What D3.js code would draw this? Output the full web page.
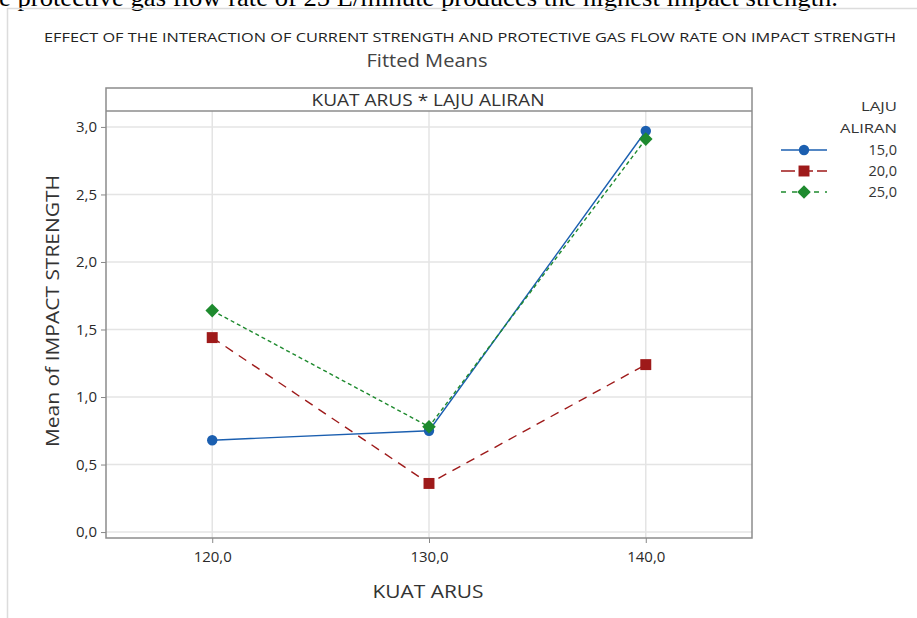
<!DOCTYPE html>
<html><head><meta charset="utf-8">
<script src="https://cdn.jsdelivr.net/npm/d3@7"></script>
<style>body{margin:0;background:#fff}svg{display:block}</style>
</head><body>
<script>
const categories = [120, 130, 140];
const seriesNames = ["15,0", "20,0", "25,0"];
const s15 = [0.68, 0.75, 2.97];
const s20 = [1.44, 0.36, 1.24];
const s25 = [1.64, 0.78, 2.91];
const yTicks = [0, 0.5, 1, 1.5, 2, 2.5, 3];
const xTicks = [120, 130, 140];

const W = 917, H = 618;
const svg = d3.select("body").append("svg").attr("width", W).attr("height", H);
const font = "'Open Sans', 'Noto Sans', sans-serif";

// clipped caption text from surrounding document
svg.append("text").attr("x", -1).attr("y", 6)
  .attr("font-family", "'Liberation Serif', serif").attr("font-size", 25).attr("fill", "#000")
  .attr("textLength", 839).attr("lengthAdjust", "spacingAndGlyphs")
  .text("e protective gas flow rate of 25 L/minute produces the highest impact strength.");

// outer frame
svg.append("path").attr("d", "M7.5,618 V8.5 H917").attr("fill", "none").attr("stroke", "#dcdcdc").attr("stroke-width", 1.5);

const L = 106, R = 752, T = 111, B = 538;
const x = d3.scaleLinear().domain([115.1, 144.9]).range([L, R]);
const y = d3.scaleLinear().domain([-0.044, 3.118]).range([B, T]);

// gridlines
const g = svg.append("g");
g.selectAll(".gy").data(yTicks).enter().append("line")
  .attr("x1", L).attr("x2", R).attr("y1", d => y(d)).attr("y2", d => y(d))
  .attr("stroke", "#e4e4e4").attr("stroke-width", 1.5);
g.selectAll(".gx").data(xTicks).enter().append("line")
  .attr("y1", T).attr("y2", B).attr("x1", d => x(d)).attr("x2", d => x(d))
  .attr("stroke", "#e4e4e4").attr("stroke-width", 1.5);

// axes
const fmt = d => d3.format(".1f")(d).replace(".", ",");
const ya = svg.append("g").attr("transform", `translate(${L},0)`)
  .call(d3.axisLeft(y).tickValues(yTicks).tickFormat(fmt).tickSize(5).tickPadding(4));
const xa = svg.append("g").attr("transform", `translate(0,${B})`)
  .call(d3.axisBottom(x).tickValues(xTicks).tickFormat(fmt).tickSize(5).tickPadding(8));
[ya, xa].forEach(a => {
  a.select(".domain").remove();
  a.selectAll("line").attr("stroke", "#888");
  a.selectAll("text").attr("font-family", font).attr("font-size", 15).attr("fill", "#2a2a2a");
});

// panel border + header
svg.append("rect").attr("x", L).attr("y", 88).attr("width", R - L).attr("height", B - 88)
  .attr("fill", "none").attr("stroke", "#8c8c8c").attr("stroke-width", 1.5);
svg.append("line").attr("x1", L).attr("x2", R).attr("y1", T).attr("y2", T)
  .attr("stroke", "#8c8c8c").attr("stroke-width", 1.5);
svg.append("text").attr("x", 428).attr("y", 106).attr("text-anchor", "middle")
  .attr("font-family", font).attr("font-size", 17).attr("fill", "#333")
  .attr("textLength", 233).attr("lengthAdjust", "spacingAndGlyphs").text("KUAT ARUS * LAJU ALIRAN");

// titles
svg.append("text").attr("x", 470).attr("y", 42).attr("text-anchor", "middle")
  .attr("font-family", font).attr("font-size", 13).attr("fill", "#222")
  .attr("textLength", 852).attr("lengthAdjust", "spacingAndGlyphs")
  .text("EFFECT OF THE INTERACTION OF CURRENT STRENGTH AND PROTECTIVE GAS FLOW RATE ON IMPACT STRENGTH");
svg.append("text").attr("x", 427).attr("y", 67).attr("text-anchor", "middle")
  .attr("font-family", font).attr("font-size", 18).attr("fill", "#444")
  .attr("textLength", 121).attr("lengthAdjust", "spacingAndGlyphs").text("Fitted Means");
svg.append("text").attr("x", 428).attr("y", 598).attr("text-anchor", "middle")
  .attr("font-family", font).attr("font-size", 19).attr("fill", "#333")
  .attr("textLength", 111).attr("lengthAdjust", "spacingAndGlyphs").text("KUAT ARUS");
svg.append("text").attr("transform", "translate(59,311) rotate(-90)").attr("text-anchor", "middle")
  .attr("font-family", font).attr("font-size", 19).attr("fill", "#333")
  .attr("textLength", 272).attr("lengthAdjust", "spacingAndGlyphs").text("Mean of IMPACT STRENGTH");

// series
const diamond = {draw(ctx, size) { const r = Math.sqrt(size) * 0.62; ctx.moveTo(0, -r); ctx.lineTo(r, 0); ctx.lineTo(0, r); ctx.lineTo(-r, 0); ctx.closePath(); }};
const series = [
  {name: seriesNames[0], vals: s15, color: "#1b5fb0", dash: null, shape: d3.symbolCircle, size: 85},
  {name: seriesNames[1], vals: s20, color: "#9e1a1a", dash: "9,7", shape: d3.symbolSquare, size: 120},
  {name: seriesNames[2], vals: s25, color: "#1e8a2e", dash: "4,3", shape: diamond, size: 120}
];
const line = d3.line().x((d, i) => x(categories[i])).y(d => y(d));
series.forEach(s => {
  svg.append("path").attr("d", line(s.vals)).attr("fill", "none")
    .attr("stroke", s.color).attr("stroke-width", 1.4).attr("stroke-dasharray", s.dash);
});
series.forEach(s => {
  svg.selectAll(null).data(s.vals).enter().append("path")
    .attr("d", d3.symbol().type(s.shape).size(s.size))
    .attr("transform", (d, i) => `translate(${x(categories[i])},${y(d)})`)
    .attr("fill", s.color);
});

// legend
const lt = (t, yy, len) => svg.append("text").attr("x", 897).attr("y", yy).attr("text-anchor", "end")
  .attr("font-family", font).attr("font-size", 13.5).attr("fill", "#333")
  .attr("textLength", len).attr("lengthAdjust", "spacingAndGlyphs").text(t);
lt("LAJU", 111, 36);
lt("ALIRAN", 133, 57);
series.forEach((s, i) => {
  const ly = 150 + i * 21;
  svg.append("line").attr("x1", 781).attr("x2", 827).attr("y1", ly).attr("y2", ly)
    .attr("stroke", s.color).attr("stroke-width", 1.4).attr("stroke-dasharray", s.dash ? (i === 1 ? "14,4" : "5,6") : null);
  svg.append("path").attr("d", d3.symbol().type(s.shape).size(s.size))
    .attr("transform", `translate(804,${ly})`).attr("fill", s.color);
  svg.append("text").attr("x", 897).attr("y", ly + 5).attr("text-anchor", "end")
    .attr("font-family", font).attr("font-size", 14.5).attr("fill", "#333").text(s.name);
});
</script>
</body></html>
